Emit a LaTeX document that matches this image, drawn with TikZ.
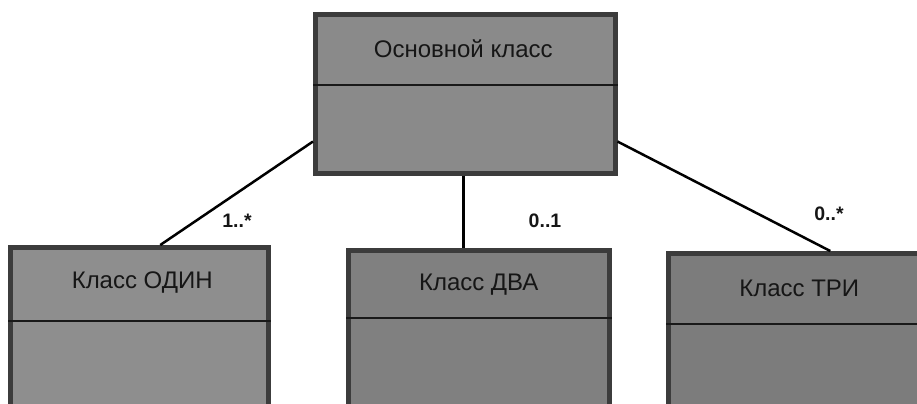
\documentclass[tikz,border=0pt]{standalone}
\usepackage{fontspec}
\setmainfont{Liberation Sans}
\usetikzlibrary{calc}
\definecolor{boxborder}{HTML}{3C3C3C}
\definecolor{mainfill}{HTML}{8A8A8A}
\definecolor{onefill}{HTML}{8E8E8E}
\definecolor{twofill}{HTML}{808080}
\definecolor{threefill}{HTML}{7C7C7C}
\definecolor{txt}{HTML}{161616}
\tikzset{
  cls/.style={draw=boxborder, line width=4.5bp, fill=#1, inner sep=0pt, anchor=north west},
  divider/.style={draw=black!90, line width=2.5bp},
  assoc/.style={draw=black, line width=2.5bp},
  clsname/.style={font=\fontsize{24bp}{28bp}\selectfont, text=txt, inner sep=0pt},
  mult/.style={font=\bfseries\fontsize{19.5bp}{23bp}\selectfont, text=txt, inner sep=0pt}
}
\begin{document}
\begin{tikzpicture}[x=1bp,y=-1bp]
\useasboundingbox (0,0) rectangle (917,403);
\clip (0,0) rectangle (917,403);
% classes
\node[cls=mainfill, minimum width=300bp, minimum height=159bp] (main) at (313,12) {};
\node[cls=onefill, minimum width=258bp, minimum height=170bp] (c1) at (8,245) {};
\node[cls=twofill, minimum width=261bp, minimum height=170bp] (c2) at (346,248) {};
\node[cls=threefill, minimum width=262bp, minimum height=170bp] (c3) at (666,251) {};
% dividers
\draw[divider] ([yshift=-73bp]main.north west) -- ([yshift=-73bp]main.north east);
\draw[divider] ([yshift=-76bp]c1.north west) -- ([yshift=-76bp]c1.north east);
\draw[divider] ([yshift=-70bp]c2.north west) -- ([yshift=-70bp]c2.north east);
\draw[divider] ([yshift=-73bp]c3.north west) -- ([yshift=-73bp]c3.north east);
% names
\node[clsname] (tmain) at ($(main.north)+(-2,37)$) {Основной класс};
\node[clsname] (t1) at ($(c1.north)+(3,38)$) {Класс ОДИН};
\node[clsname] (t2) at ($(c2.north)+(0,37)$) {Класс ДВА};
\node[clsname] (t3) at ($(c3.north)+(0,37)$) {Класс ТРИ};
% associations
\draw[assoc] ([yshift=34bp]main.south west) -- ([xshift=21bp]c1.north);
\draw[assoc] ([xshift=-2bp]main.south) -- ([xshift=-2bp]main.south |- c2.north);
\draw[assoc] ([yshift=34bp]main.south east) -- ([xshift=31bp]c3.north);
% multiplicities
\node[mult] (m1) at (237,221) {1..*};
\node[mult] (m2) at (545,221) {0..1};
\node[mult] (m3) at (829,214) {0..*};
\end{tikzpicture}
\end{document}
